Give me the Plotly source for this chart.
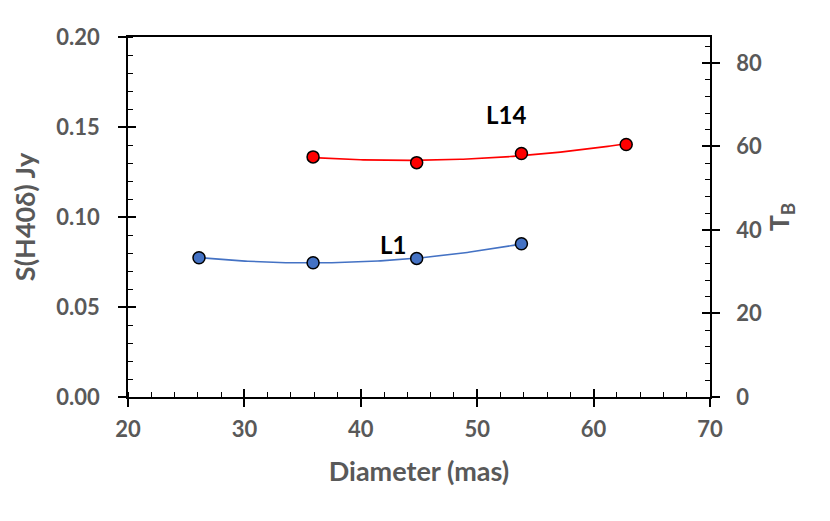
import numpy as np
import plotly.graph_objects as go

# Data
diam_L1 = [26.1, 35.9, 44.8, 53.8]
flux_L1 = [0.0774, 0.0746, 0.0770, 0.0851]
diam_L14 = [35.9, 44.8, 53.8, 62.8]
flux_L14 = [0.1334, 0.1302, 0.1353, 0.1403]

labels = ["L1", "L14"]
label_x = [42.8, 52.5]
label_y = [0.0847, 0.1570]

x_range = [20, 70]
y_range = [0, 0.20]
tb_range = [0, 86.2]

GRAY = "#595959"
BLUE = "#4472C4"
RED = "#FF0000"
FONT = "Lato"

fig = go.Figure()

def trend(xs, ys):
    c = np.polyfit(xs, ys, 2)
    xx = np.linspace(min(xs), max(xs), 120)
    return xx, np.polyval(c, xx)

for xs, ys, col in [(diam_L1, flux_L1, BLUE), (diam_L14, flux_L14, RED)]:
    xx, yy = trend(xs, ys)
    fig.add_trace(go.Scatter(x=xx, y=yy, mode="lines",
                             line=dict(color=col, width=1.6), hoverinfo="skip"))
    fig.add_trace(go.Scatter(x=xs, y=ys, mode="markers",
                             marker=dict(color=col, size=12,
                                         line=dict(color="black", width=1.5))))

# invisible traces to activate secondary / overlay axes
fig.add_trace(go.Scatter(x=[None], y=[None], yaxis="y2", showlegend=False))
fig.add_trace(go.Scatter(x=[None], y=[None], xaxis="x3", showlegend=False))
fig.add_trace(go.Scatter(x=[None], y=[None], yaxis="y3", showlegend=False))
fig.add_trace(go.Scatter(x=[None], y=[None], yaxis="y4", showlegend=False))

for t, xv, yv in zip(labels, label_x, label_y):
    fig.add_annotation(x=xv, y=yv, text=t, showarrow=False,
                       font=dict(family=FONT, size=24, color="black", weight="bold"))

tickfont = dict(family=FONT, size=22, color=GRAY, weight="bold")
titlefont = dict(family=FONT, size=27, color=GRAY, weight="bold")
LINE = dict(showline=True, linecolor="black", linewidth=1.5, zeroline=False, showgrid=False)

fig.update_layout(
    width=820, height=513,
    margin=dict(l=114, r=118, t=29, b=124),
    plot_bgcolor="white", paper_bgcolor="white",
    showlegend=False,
    xaxis=dict(range=x_range, dtick=10, ticks="outside", ticklen=8, tickwidth=1.5,
               tickcolor="black", mirror=True, ticklabelstandoff=4,
               minor=dict(ticks="inside", ticklen=5, dtick=2, tickcolor="black", tickwidth=1.2),
               tickfont=tickfont,
               title=dict(text="Diameter (mas)", font=titlefont, standoff=21), **LINE),
    yaxis=dict(range=y_range, dtick=0.05, tickformat=".2f", ticks="outside", ticklen=8,
               tickwidth=1.5, tickcolor="black", mirror=False, ticklabelstandoff=14,
               minor=dict(ticks="inside", ticklen=5, dtick=0.01, tickcolor="black", tickwidth=1.2),
               tickfont=tickfont,
               title=dict(text="S(H40δ) Jy", font=titlefont, standoff=17), **LINE),
    yaxis2=dict(range=tb_range, dtick=20, overlaying="y", side="right", ticks="outside",
                ticklen=8, tickwidth=1.5, tickcolor="black", ticklabelstandoff=12,
                minor=dict(ticks="inside", ticklen=5, dtick=4, tickcolor="black", tickwidth=1.2),
                tickfont=tickfont,
                title=dict(text="T<sub>B</sub>", font=titlefont, standoff=5), **LINE),
    xaxis3=dict(range=x_range, dtick=10, overlaying="x", anchor="y", side="bottom",
                ticks="inside", ticklen=8, tickwidth=1.5, tickcolor="black",
                showticklabels=False, showline=False, showgrid=False, zeroline=False),
    yaxis3=dict(range=y_range, dtick=0.05, overlaying="y", side="left", ticks="inside",
                ticklen=8, tickwidth=1.5, tickcolor="black", showticklabels=False,
                showline=False, showgrid=False, zeroline=False),
    yaxis4=dict(range=tb_range, dtick=20, overlaying="y", side="right", ticks="inside",
                ticklen=8, tickwidth=1.5, tickcolor="black", showticklabels=False,
                showline=False, showgrid=False, zeroline=False),
)

fig.write_html("out.html")
